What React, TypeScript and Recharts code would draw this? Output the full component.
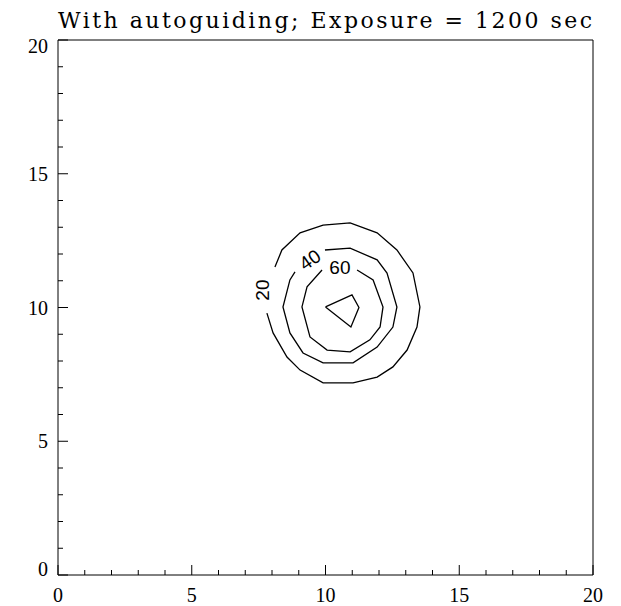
import React from "react";
import { ComposedChart, Line, Scatter, XAxis, YAxis } from "recharts";

const title = "With autoguiding; Exposure = 1200 sec";
const axisTicks = [0, 1, 2, 3, 4, 5, 6, 7, 8, 9, 10, 11, 12, 13, 14, 15, 16, 17, 18, 19, 20];
const majorTicks = [0, 5, 10, 15, 20];

// contour levels (data units)
const contour20 = [
  { x: 8.11, y: 11.51 }, { x: 8.37, y: 12.15 }, { x: 9.05, y: 12.79 }, { x: 9.91, y: 13.08 },
  { x: 10.92, y: 13.16 }, { x: 11.93, y: 12.79 }, { x: 12.67, y: 12.15 }, { x: 13.27, y: 11.29 },
  { x: 13.53, y: 10.02 }, { x: 13.42, y: 9.27 }, { x: 13.05, y: 8.41 }, { x: 12.52, y: 7.78 },
  { x: 11.93, y: 7.4 }, { x: 11.03, y: 7.18 }, { x: 9.91, y: 7.18 }, { x: 9.05, y: 7.66 },
  { x: 8.56, y: 8.15 }, { x: 8.04, y: 9.05 }, { x: 7.81, y: 9.79 },
];
const contour40 = [
  { x: 9.98, y: 12.15 }, { x: 10.92, y: 12.22 }, { x: 11.93, y: 11.78 }, { x: 12.3, y: 11.29 },
  { x: 12.67, y: 10.02 }, { x: 12.52, y: 9.27 }, { x: 11.93, y: 8.52 }, { x: 11.03, y: 7.93 },
  { x: 9.91, y: 7.93 }, { x: 9.16, y: 8.3 }, { x: 8.67, y: 9.05 }, { x: 8.41, y: 10.02 },
  { x: 8.67, y: 11.03 }, { x: 8.86, y: 11.33 },
];
const contour60 = [
  { x: 11.18, y: 11.4 }, { x: 11.78, y: 11.03 }, { x: 12.15, y: 10.02 }, { x: 12.04, y: 9.27 },
  { x: 11.66, y: 8.79 }, { x: 10.92, y: 8.34 }, { x: 10.06, y: 8.41 }, { x: 9.42, y: 8.9 },
  { x: 9.12, y: 10.02 }, { x: 9.31, y: 10.77 }, { x: 9.87, y: 11.4 },
];
const contour80 = [
  { x: 10.0, y: 10.02 }, { x: 10.99, y: 10.47 }, { x: 11.25, y: 10.0 }, { x: 10.95, y: 9.27 },
  { x: 10.0, y: 10.02 },
];
const contourLabels = [
  { x: 7.66, y: 10.65, text: "20", angle: -90 },
  { x: 9.42, y: 11.78, text: "40", angle: -35 },
  { x: 10.54, y: 11.51, text: "60", angle: 0 },
];

const tickFont = { fontFamily: "'Liberation Serif', serif", fontSize: 20 };

const BottomTick = (props: any) => {
  const { x, y, payload } = props;
  const major = majorTicks.includes(payload.value);
  return (
    <g>
      <line x1={x} x2={x} y1={y} y2={y - (major ? 10 : 5)} stroke="#000" />
      {major && (
        <text x={x} y={y + 20} textAnchor="middle" dominantBaseline="central" fill="#000" {...tickFont}>
          {payload.value}
        </text>
      )}
    </g>
  );
};

const TopTick = (props: any) => {
  const { x, y, payload } = props;
  const major = majorTicks.includes(payload.value);
  return <line x1={x} x2={x} y1={y} y2={y + (major ? 10 : 5)} stroke="#000" />;
};

const LeftTick = (props: any) => {
  const { x, y, payload } = props;
  const v = payload.value;
  const major = majorTicks.includes(v);
  const dy = v === 20 ? 6 : v === 0 ? -6 : 0;
  return (
    <g>
      <line x1={x} x2={x + (major ? 10 : 5)} y1={y} y2={y} stroke="#000" />
      {major && (
        <text x={x - 10} y={y + dy} textAnchor="end" dominantBaseline="central" fill="#000" {...tickFont}>
          {v}
        </text>
      )}
    </g>
  );
};

const RightTick = (props: any) => {
  const { x, y, payload } = props;
  const major = majorTicks.includes(payload.value);
  return <line x1={x} x2={x - (major ? 10 : 5)} y1={y} y2={y} stroke="#000" />;
};

const LabelShape = (props: any) => {
  const { cx, cy, payload } = props;
  return (
    <text
      x={cx}
      y={cy}
      textAnchor="middle"
      dominantBaseline="central"
      transform={`rotate(${payload.angle} ${cx} ${cy})`}
      fontFamily="'Liberation Sans', sans-serif"
      fontSize={19}
      fill="#000"
    >
      {payload.text}
    </text>
  );
};

export default function App() {
  const lineProps = {
    xAxisId: "b",
    yAxisId: "l",
    type: "linear" as const,
    dataKey: "y",
    stroke: "#000",
    strokeWidth: 1.3,
    dot: false,
    activeDot: false,
    isAnimationActive: false,
  };
  return (
    <div style={{ position: "relative", width: 605, height: 598, background: "#fff" }}>
      <svg width={605} height={40} style={{ position: "absolute", left: 0, top: 0 }}>
        <text
          x={50}
          y={20}
          textLength={534}
          lengthAdjust="spacing"
          fontFamily="'DejaVu Serif', serif"
          fontSize={22}
          fill="#000"
        >
          {title}
        </text>
      </svg>
      <ComposedChart width={605} height={598} margin={{ top: 0, right: 0, bottom: 0, left: 0 }}>
        <XAxis
          xAxisId="b"
          dataKey="x"
          type="number"
          domain={[0, 20]}
          ticks={axisTicks}
          interval={0}
          height={31}
          tickSize={0}
          tickMargin={0}
          tickLine={false}
          axisLine={{ stroke: "#000" }}
          tick={<BottomTick />}
          allowDataOverflow
        />
        <XAxis
          xAxisId="t"
          orientation="top"
          type="number"
          domain={[0, 20]}
          ticks={axisTicks}
          interval={0}
          height={32}
          tickSize={0}
          tickMargin={0}
          tickLine={false}
          axisLine={{ stroke: "#000" }}
          tick={<TopTick />}
        />
        <YAxis
          yAxisId="l"
          type="number"
          domain={[0, 20]}
          ticks={axisTicks}
          interval={0}
          width={50}
          tickSize={0}
          tickMargin={0}
          tickLine={false}
          axisLine={{ stroke: "#000" }}
          tick={<LeftTick />}
          allowDataOverflow
        />
        <YAxis
          yAxisId="r"
          orientation="right"
          type="number"
          domain={[0, 20]}
          ticks={axisTicks}
          interval={0}
          width={20}
          tickSize={0}
          tickMargin={0}
          tickLine={false}
          axisLine={{ stroke: "#000" }}
          tick={<RightTick />}
        />
        <Line {...lineProps} data={contour20} />
        <Line {...lineProps} data={contour40} />
        <Line {...lineProps} data={contour60} />
        <Line {...lineProps} data={contour80} />
        <Scatter
          xAxisId="b"
          yAxisId="l"
          data={contourLabels}
          dataKey="y"
          shape={<LabelShape />}
          isAnimationActive={false}
        />
      </ComposedChart>
    </div>
  );
}
